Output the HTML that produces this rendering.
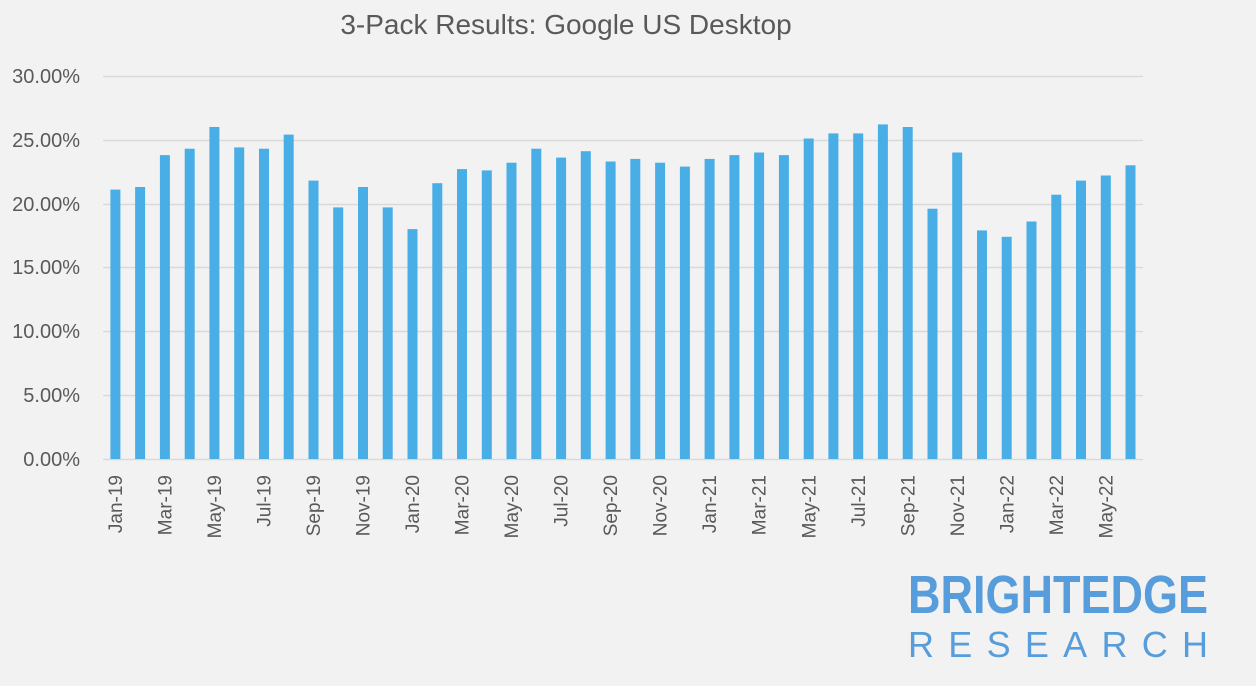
<!DOCTYPE html>
<html><head><style>
body{margin:0;background:#f2f2f2;}
svg{display:block;font-family:"Liberation Sans",sans-serif;}
</style></head><body>
<svg width="1256" height="686" xmlns="http://www.w3.org/2000/svg">
<rect width="1256" height="686" fill="#f2f2f2"/>
<text x="566" y="34" font-size="28" fill="#595959" text-anchor="middle">3-Pack Results: Google US Desktop</text>
<g stroke="#d9d9d9" stroke-width="1.5">
<line x1="103" x2="1143" y1="76.5" y2="76.5"/>
<line x1="103" x2="1143" y1="140.5" y2="140.5"/>
<line x1="103" x2="1143" y1="204.5" y2="204.5"/>
<line x1="103" x2="1143" y1="267.5" y2="267.5"/>
<line x1="103" x2="1143" y1="331.5" y2="331.5"/>
<line x1="103" x2="1143" y1="395.5" y2="395.5"/>
<line x1="103" x2="1143" y1="459.5" y2="459.5"/>
</g>
<g font-size="20" fill="#595959" text-anchor="end">
<text x="80" y="83">30.00%</text>
<text x="80" y="147">25.00%</text>
<text x="80" y="211">20.00%</text>
<text x="80" y="274">15.00%</text>
<text x="80" y="338">10.00%</text>
<text x="80" y="402">5.00%</text>
<text x="80" y="466">0.00%</text>
</g>
<g fill="#4aaee6">
<rect x="110.4" y="189.6" width="10" height="269.4"/>
<rect x="135.1" y="187.0" width="10" height="272.0"/>
<rect x="159.9" y="155.1" width="10" height="303.9"/>
<rect x="184.7" y="148.7" width="10" height="310.3"/>
<rect x="209.4" y="127.0" width="10" height="332.0"/>
<rect x="234.2" y="147.4" width="10" height="311.6"/>
<rect x="259.0" y="148.7" width="10" height="310.3"/>
<rect x="283.7" y="134.6" width="10" height="324.4"/>
<rect x="308.5" y="180.6" width="10" height="278.4"/>
<rect x="333.2" y="207.4" width="10" height="251.6"/>
<rect x="358.0" y="187.0" width="10" height="272.0"/>
<rect x="382.7" y="207.4" width="10" height="251.6"/>
<rect x="407.5" y="229.1" width="10" height="229.9"/>
<rect x="432.3" y="183.2" width="10" height="275.8"/>
<rect x="457.0" y="169.1" width="10" height="289.9"/>
<rect x="481.8" y="170.4" width="10" height="288.6"/>
<rect x="506.5" y="162.7" width="10" height="296.3"/>
<rect x="531.3" y="148.7" width="10" height="310.3"/>
<rect x="556.1" y="157.6" width="10" height="301.4"/>
<rect x="580.8" y="151.2" width="10" height="307.8"/>
<rect x="605.6" y="161.5" width="10" height="297.5"/>
<rect x="630.3" y="158.9" width="10" height="300.1"/>
<rect x="655.1" y="162.7" width="10" height="296.3"/>
<rect x="679.9" y="166.6" width="10" height="292.4"/>
<rect x="704.6" y="158.9" width="10" height="300.1"/>
<rect x="729.4" y="155.1" width="10" height="303.9"/>
<rect x="754.1" y="152.5" width="10" height="306.5"/>
<rect x="778.9" y="155.1" width="10" height="303.9"/>
<rect x="803.7" y="138.5" width="10" height="320.5"/>
<rect x="828.4" y="133.4" width="10" height="325.6"/>
<rect x="853.2" y="133.4" width="10" height="325.6"/>
<rect x="877.9" y="124.4" width="10" height="334.6"/>
<rect x="902.7" y="127.0" width="10" height="332.0"/>
<rect x="927.5" y="208.7" width="10" height="250.3"/>
<rect x="952.2" y="152.5" width="10" height="306.5"/>
<rect x="977.0" y="230.4" width="10" height="228.6"/>
<rect x="1001.7" y="236.8" width="10" height="222.2"/>
<rect x="1026.5" y="221.5" width="10" height="237.5"/>
<rect x="1051.3" y="194.7" width="10" height="264.3"/>
<rect x="1076.0" y="180.6" width="10" height="278.4"/>
<rect x="1100.8" y="175.5" width="10" height="283.5"/>
<rect x="1125.5" y="165.3" width="10" height="293.7"/>
</g>
<g font-size="19" fill="#595959" text-anchor="end">
<text transform="translate(122,475) rotate(-90)">Jan-19</text>
<text transform="translate(171.5,475) rotate(-90)">Mar-19</text>
<text transform="translate(221,475) rotate(-90)">May-19</text>
<text transform="translate(270.6,475) rotate(-90)">Jul-19</text>
<text transform="translate(320.1,475) rotate(-90)">Sep-19</text>
<text transform="translate(369.6,475) rotate(-90)">Nov-19</text>
<text transform="translate(419.1,475) rotate(-90)">Jan-20</text>
<text transform="translate(468.6,475) rotate(-90)">Mar-20</text>
<text transform="translate(518.1,475) rotate(-90)">May-20</text>
<text transform="translate(567.7,475) rotate(-90)">Jul-20</text>
<text transform="translate(617.2,475) rotate(-90)">Sep-20</text>
<text transform="translate(666.7,475) rotate(-90)">Nov-20</text>
<text transform="translate(716.2,475) rotate(-90)">Jan-21</text>
<text transform="translate(765.7,475) rotate(-90)">Mar-21</text>
<text transform="translate(815.3,475) rotate(-90)">May-21</text>
<text transform="translate(864.8,475) rotate(-90)">Jul-21</text>
<text transform="translate(914.3,475) rotate(-90)">Sep-21</text>
<text transform="translate(963.8,475) rotate(-90)">Nov-21</text>
<text transform="translate(1013.3,475) rotate(-90)">Jan-22</text>
<text transform="translate(1062.9,475) rotate(-90)">Mar-22</text>
<text transform="translate(1112.4,475) rotate(-90)">May-22</text>
</g>
<text x="1058" y="613" font-size="54" font-weight="bold" fill="#3d8fd8" text-anchor="middle" textLength="300" lengthAdjust="spacingAndGlyphs" opacity="0.85">BRIGHTEDGE</text>
<text x="1058" y="657" font-size="36" fill="#3d8fd8" text-anchor="middle" textLength="300" lengthAdjust="spacing" opacity="0.85">RESEARCH</text>
</svg>
</body></html>
